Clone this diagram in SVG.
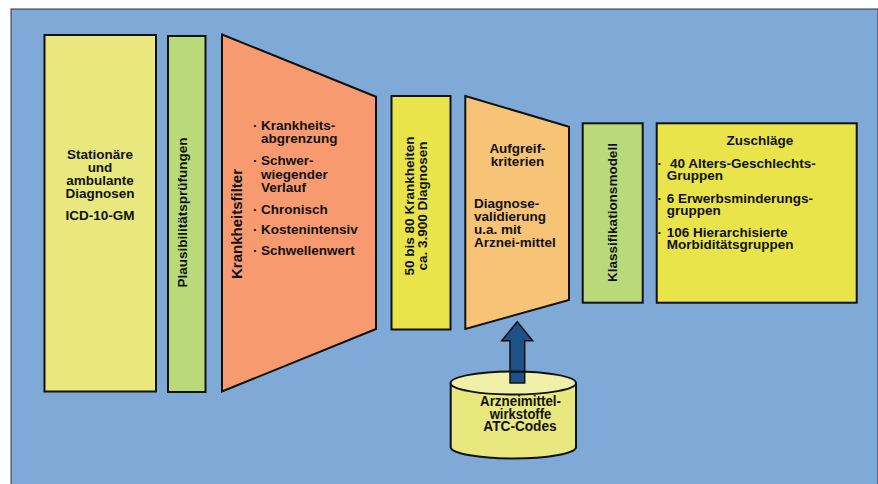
<svg xmlns="http://www.w3.org/2000/svg" width="878" height="484" viewBox="0 0 878 484">
<style>
.sh{stroke:#111;stroke-width:2;stroke-linejoin:miter}
.t{font-family:"Liberation Sans",Arial,sans-serif;font-weight:bold;font-size:13.5px;fill:#111}
.c{text-anchor:middle}
.n{font-size:14.5px}
</style>
<rect x="0" y="0" width="878" height="484" fill="#ffffff"/>
<rect x="11" y="9" width="867" height="476" fill="#7fa9d6" stroke="#333" stroke-width="1"/>
<g id="connectors">
<polygon points="517.3,321.7 532.7,340.7 524.7,340.7 524.7,383 510,383 510,340.7 501.7,340.7" fill="#1d5287" stroke="#111" stroke-width="1.5"/>
</g>
<g id="node-diagnosen">
<rect class="sh" x="44.5" y="35" width="111.5" height="356.5" fill="#e8e87e"/>
<text class="t c"><tspan x="100" y="159">Stationäre</tspan><tspan x="100" y="172">und</tspan><tspan x="100" y="185">ambulante</tspan><tspan x="100" y="198">Diagnosen</tspan><tspan x="100" y="220">ICD-10-GM</tspan></text>
</g>
<g id="node-plausibilitaet">
<rect class="sh" x="168" y="36" width="37.5" height="356" fill="#b9d97a"/>
<text class="t c" x="187" y="212.5" transform="rotate(-90 187 212.5)">Plausibilitätsprüfungen</text>
</g>
<g id="node-krankheitsfilter">
<polygon class="sh" points="222,34.5 376,96.7 376,329 222,391.5" fill="#f79a70"/>
<text class="t c" x="241.5" y="224" transform="rotate(-90 241.5 224)" style="font-size:15px">Krankheitsfilter</text>
<text class="t"><tspan x="253" y="129.5">·</tspan><tspan x="253" y="165">·</tspan><tspan x="253" y="213.5">·</tspan><tspan x="253" y="234">·</tspan><tspan x="253" y="255">·</tspan></text>
<text class="t"><tspan x="261" y="129.5">Krankheits-</tspan><tspan x="261" y="143">abgrenzung</tspan><tspan x="261" y="165">Schwer-</tspan><tspan x="261" y="178.5">wiegender</tspan><tspan x="261" y="191.5">Verlauf</tspan><tspan x="261" y="213.5">Chronisch</tspan><tspan x="261" y="234">Kostenintensiv</tspan><tspan x="261" y="255">Schwellenwert</tspan></text>
</g>
<g id="node-krankheiten">
<rect class="sh" x="391.5" y="96" width="59" height="233.5" fill="#e8e44a"/>
<text class="t c" transform="rotate(-90 420 212.5)"><tspan x="426.5" y="206">50 bis 80 Krankheiten</tspan><tspan x="426.5" y="219.5">ca. 3.900 Diagnosen</tspan></text>
</g>
<g id="node-aufgreifkriterien">
<polygon class="sh" points="465.3,96 569,126.7 569,300 465.3,329" fill="#f7c477"/>
<text class="t c"><tspan x="517.5" y="152.5">Aufgreif-</tspan><tspan x="517.5" y="165.5">kriterien</tspan></text>
<text class="t"><tspan x="474" y="208">Diagnose-</tspan><tspan x="474" y="221">validierung</tspan><tspan x="474" y="234">u.a. mit</tspan><tspan x="474" y="246.5">Arznei-mittel</tspan></text>
</g>
<g id="node-klassifikationsmodell">
<rect class="sh" x="582.7" y="123.3" width="60" height="179.4" fill="#b9d97a"/>
<text class="t c" x="617" y="212.5" transform="rotate(-90 617 212.5)">Klassifikationsmodell</text>
</g>
<g id="node-zuschlaege">
<rect class="sh" x="656.7" y="123.3" width="200" height="179.4" fill="#e8e44a"/>
<text class="t c" x="760" y="145">Zuschläge</text>
<text class="t"><tspan x="657.5" y="167.5">·</tspan><tspan x="657.5" y="202.5">·</tspan><tspan x="657.5" y="236.5">·</tspan></text>
<text class="t"><tspan x="670" y="167.5">40 Alters-Geschlechts-</tspan><tspan x="666.7" y="180">Gruppen</tspan><tspan x="666.7" y="202.5">6 Erwerbsminderungs-</tspan><tspan x="666.7" y="215">gruppen</tspan><tspan x="666.7" y="236.5">106 Hierarchisierte</tspan><tspan x="666.7" y="249">Morbiditätsgruppen</tspan></text>
</g>
<g id="node-arzneimittel">
<path class="sh" d="M450.7,383 L450.7,447.5 A62.7,11.5 0 0 0 576,447.5 L576,383" fill="#e8e87e"/>
<ellipse class="sh" cx="513.3" cy="383" rx="62.7" ry="11.5" fill="#f0f0a8"/>
<polygon points="510,372 524.7,372 524.7,383 510,383" fill="#1d5287" stroke="#111" stroke-width="1.5"/>
<text class="t c n"><tspan x="520.5" y="406" textLength="81" lengthAdjust="spacingAndGlyphs">Arzneimittel-</tspan><tspan x="520.5" y="418.5" textLength="61.7" lengthAdjust="spacingAndGlyphs">wirkstoffe</tspan><tspan x="520" y="431" textLength="73.3" lengthAdjust="spacingAndGlyphs">ATC-Codes</tspan></text>
</g>
</svg>
